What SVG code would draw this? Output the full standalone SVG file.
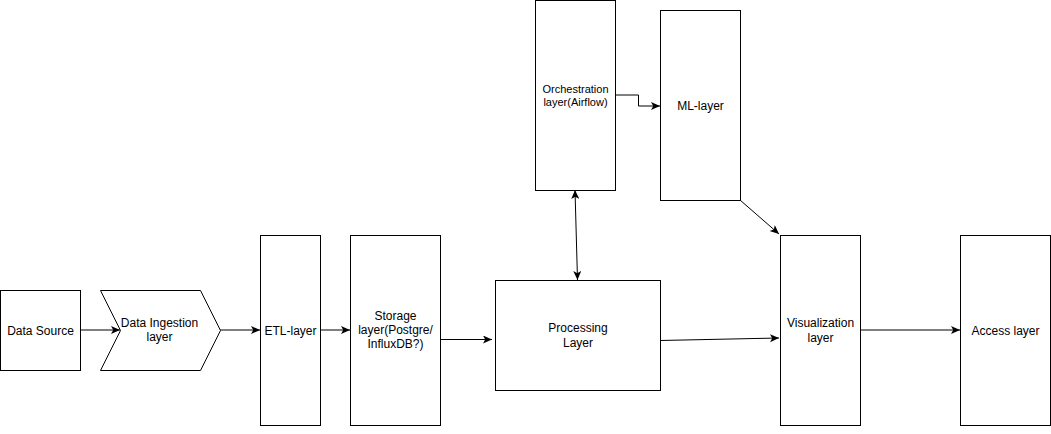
<svg xmlns="http://www.w3.org/2000/svg" width="1051" height="434" viewBox="0 0 1051 434">
<defs>
<style>
.box{fill:#fff;stroke:#000;stroke-width:1}
.t{font-family:"Liberation Sans",Arial,sans-serif;font-size:12px;fill:#000;text-anchor:middle}
.s{font-size:11px}
.c{fill:none;stroke:#000;stroke-width:1}
</style>
<marker id="a" markerUnits="userSpaceOnUse" markerWidth="12" markerHeight="12" refX="9" refY="4" orient="auto">
<path d="M0,0 L9,4 L0,8 L2.2,4 z" fill="#000"/>
</marker>
<marker id="as" markerUnits="userSpaceOnUse" markerWidth="12" markerHeight="12" refX="0" refY="4" orient="auto">
<path d="M9,0 L0,4 L9,8 L6.8,4 z" fill="#000"/>
</marker>
</defs>
<rect width="1051" height="434" fill="#fff"/>
<g id="connectors">
<line class="c" x1="80" y1="330" x2="120" y2="330" marker-end="url(#a)"/>
<line class="c" x1="220" y1="330" x2="260" y2="330" marker-end="url(#a)"/>
<line class="c" x1="320" y1="330" x2="350" y2="330" marker-end="url(#a)"/>
<line class="c" x1="440" y1="339.5" x2="492" y2="339.5" marker-end="url(#a)"/>
<line class="c" x1="660" y1="340.5" x2="779" y2="338" marker-end="url(#a)"/>
<line class="c" x1="575" y1="190" x2="577.5" y2="280" marker-start="url(#as)" marker-end="url(#a)"/>
<polyline class="c" points="615,95 638.5,95 638.5,106 660,106" marker-end="url(#a)"/>
<line class="c" x1="740" y1="200" x2="779" y2="234" marker-end="url(#a)"/>
<line class="c" x1="860" y1="330" x2="960" y2="330" marker-end="url(#a)"/>
</g>
<g id="data-source">
<rect class="box" x="0.5" y="290.5" width="80" height="80"/>
<text class="t" x="40.5" y="334.5">Data Source</text>
</g>
<g id="data-ingestion">
<path class="box" d="M100.5,290.5 L200.5,290.5 L220.5,330.5 L200.5,370.5 L100.5,370.5 L120.5,330.5 Z"/>
<text class="t" x="159.5" y="327">Data Ingestion</text>
<text class="t" x="159.5" y="341">layer</text>
</g>
<g id="etl">
<rect class="box" x="260.5" y="235.5" width="60" height="190"/>
<text class="t" x="290.5" y="334.5">ETL-layer</text>
</g>
<g id="storage">
<rect class="box" x="350.5" y="235.5" width="90" height="190"/>
<text class="t" x="395.5" y="320">Storage</text>
<text class="t" x="395.5" y="334">layer(Postgre/</text>
<text class="t" x="395.5" y="348">InfluxDB?)</text>
</g>
<g id="processing">
<rect class="box" x="495.5" y="280.5" width="165" height="110"/>
<text class="t" x="578" y="332">Processing</text>
<text class="t" x="578" y="347">Layer</text>
</g>
<g id="orchestration">
<rect class="box" x="535.5" y="0.5" width="80" height="190"/>
<text class="t s" x="575.5" y="92.5">Orchestration</text>
<text class="t s" x="575.5" y="106">layer(Airflow)</text>
</g>
<g id="ml">
<rect class="box" x="660.5" y="10.5" width="80" height="190"/>
<text class="t" x="700.5" y="110">ML-layer</text>
</g>
<g id="visualization">
<rect class="box" x="780.5" y="235.5" width="80" height="190"/>
<text class="t" x="820.5" y="327">Visualization</text>
<text class="t" x="820.5" y="342">layer</text>
</g>
<g id="access">
<rect class="box" x="960.5" y="235.5" width="90" height="190"/>
<text class="t" x="1005.5" y="334.5">Access layer</text>
</g>
</svg>
